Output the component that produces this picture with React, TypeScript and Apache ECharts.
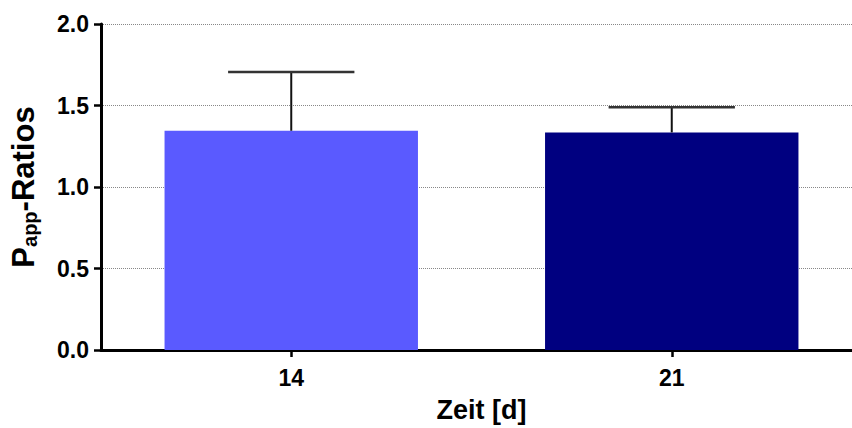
import React, { useEffect, useRef } from "react";
import * as echarts from "echarts";

const categories = ["14", "21"];
const means = [1.345, 1.335];
const errUpper = [1.705, 1.49];
const barColors = ["#5a5aff", "#000080"];
const yMin = 0;
const yMax = 2;
const yInterval = 0.5;
const xTitle = "Zeit [d]";
const yTitleMain = "P";
const yTitleSub = "app";
const yTitleRest = "-Ratios";

const FONT = "'Liberation Sans', Arial, Helvetica, sans-serif";

function measure(text: string, size: number): number {
  const c = document.createElement("canvas").getContext("2d");
  if (!c) return text.length * size * 0.55;
  c.font = `bold ${size}px ${FONT}`;
  return c.measureText(text).width;
}

export default function App() {
  const ref = useRef<HTMLDivElement>(null);
  useEffect(() => {
    if (!ref.current) return;
    const chart = echarts.init(ref.current, null, { renderer: "svg" });
    const mainSize = 31;
    const subSize = 20;
    const wP = measure(yTitleMain, mainSize);
    const wSub = measure(yTitleSub, subSize);
    const wRest = measure(yTitleRest, mainSize);
    const total = wP + wSub + wRest;
    const start = -total / 2;
    const option: any = {
      animation: false,
      backgroundColor: "#ffffff",
      grid: { left: 101, top: 24, right: -10, bottom: 78, containLabel: false, outerBoundsMode: "none" },
      xAxis: {
        type: "category",
        data: categories,
        axisLine: { lineStyle: { color: "#000", width: 3 } },
        axisTick: { show: true, alignWithLabel: true, length: 7, lineStyle: { color: "#000", width: 2.5 } },
        axisLabel: { color: "#000", fontSize: 23, fontWeight: "bold", fontFamily: FONT, margin: 16 },
        name: xTitle,
        nameLocation: "middle",
        nameGap: 46,
        nameTextStyle: { color: "#000", fontSize: 27, fontWeight: "bold", fontFamily: FONT },
        splitLine: { show: false },
      },
      yAxis: {
        type: "value",
        min: yMin,
        max: yMax,
        interval: yInterval,
        axisLine: { show: true, lineStyle: { color: "#000", width: 3 } },
        axisTick: { show: true, length: 7, lineStyle: { color: "#000", width: 2.5 } },
        axisLabel: {
          color: "#000",
          fontSize: 23,
          fontWeight: "bold",
          fontFamily: FONT,
          margin: 12,
          formatter: (v: number) => v.toFixed(1),
        },
        splitLine: { show: true, lineStyle: { color: "#888", width: 1, type: "dotted" } },
      },
      graphic: [
        {
          type: "group",
          x: 23,
          y: 187,
          rotation: Math.PI / 2,
          children: [
            {
              type: "text",
              x: start,
              y: 0,
              style: { text: yTitleMain, font: `bold ${mainSize}px ${FONT}`, fill: "#000", align: "left", verticalAlign: "middle" },
            },
            {
              type: "text",
              x: start + wP,
              y: 7,
              style: { text: yTitleSub, font: `bold ${subSize}px ${FONT}`, fill: "#000", align: "left", verticalAlign: "middle" },
            },
            {
              type: "text",
              x: start + wP + wSub,
              y: 0,
              style: { text: yTitleRest, font: `bold ${mainSize}px ${FONT}`, fill: "#000", align: "left", verticalAlign: "middle" },
            },
          ],
        },
      ],
      series: [
        {
          type: "bar",
          barWidth: "66.6%",
          data: means.map((v, i) => ({ value: v, itemStyle: { color: barColors[i] } })),
          z: 2,
        },
        {
          type: "custom",
          z: 3,
          data: categories.map((_, i) => [i, means[i], errUpper[i]]),
          encode: { x: 0, y: 1 },
          renderItem: (params: any, api: any) => {
            const i = api.value(0);
            const m = api.value(1);
            const u = api.value(2);
            const base = api.coord([i, m]);
            const top = api.coord([i, u]);
            const bw = api.size([1, 0])[0];
            const half = bw * 0.166;
            return {
              type: "group",
              children: [
                { type: "line", shape: { x1: base[0], y1: base[1], x2: top[0], y2: top[1] }, style: { stroke: "#111", lineWidth: 2 } },
                { type: "line", shape: { x1: top[0] - half, y1: top[1], x2: top[0] + half, y2: top[1] }, style: { stroke: "#333", lineWidth: 2.5 } },
              ],
            };
          },
        },
      ],
    };
    chart.setOption(option);
    return () => chart.dispose();
  }, []);
  return <div ref={ref} style={{ position: "absolute", left: 0, top: 0, width: 852, height: 428 }} />;
}
